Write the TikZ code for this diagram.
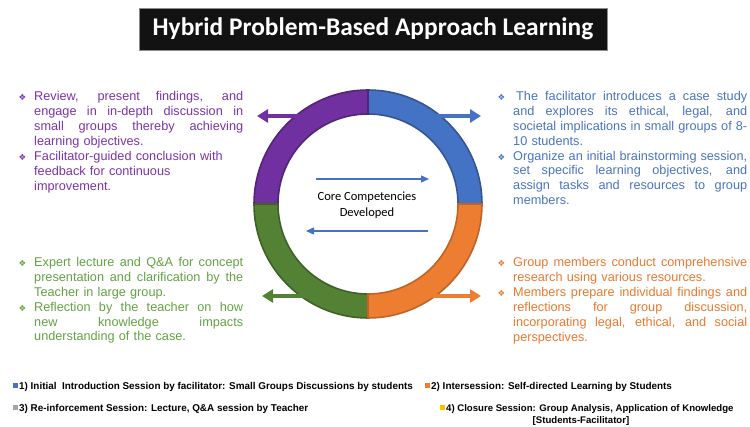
\documentclass[tikz,border=0pt]{standalone}
\usepackage{fontspec}
\setmainfont{Liberation Sans}
\newfontfamily\calib{Carlito}
\newfontfamily\djv{DejaVu Sans}
\usetikzlibrary{arrows.meta}
\definecolor{cpur}{HTML}{7030A0}
\definecolor{cblu}{HTML}{4472C4}
\definecolor{cgrn}{HTML}{548235}
\definecolor{cora}{HTML}{ED7D31}
\definecolor{tpur}{HTML}{7A35A8}
\definecolor{tblu}{HTML}{4A74C0}
\definecolor{tgrn}{HTML}{64A243}
\definecolor{tora}{HTML}{E97A30}
\definecolor{cgry}{HTML}{A5A5A5}
\definecolor{cgld}{HTML}{FFC000}
\newcommand\bul{{\djv\fontsize{8.5}{8.5}\selectfont ❖}}
\newcommand\jl[1]{\makebox[\hsize][s]{\spaceskip=0.278em plus 3em minus 0.24em #1}\par}
\newcommand\rl[1]{#1\par}
\newcommand\bjl[1]{\leavevmode\llap{\bul\hspace{8pt}}\makebox[\hsize][s]{\spaceskip=0.278em plus 3em minus 0.24em #1}\par}
\newcommand\brl[1]{\leavevmode\llap{\bul\hspace{8pt}}#1\par}
\tikzset{
  blocktxt/.style={inner sep=0pt, anchor=base west, font=\fontsize{12.7}{15}\selectfont\setlength\parindent{0pt}},
  leg/.style={inner sep=0pt, anchor=base west, font=\fontsize{9.9}{11}\selectfont\bfseries},
  legsmall/.style={inner sep=0pt, anchor=base west, font=\fontsize{9.6}{11}\selectfont\bfseries},
  sq/.style={inner sep=0pt, minimum size=5pt},
  outarrow/.style={-{Triangle[length=11pt,width=13pt]}, line width=4pt},
  inarrow/.style={-{Triangle[length=8pt,width=7pt]}, line width=1.3pt, cblu},
  seg/.style={line width=1.6pt}
}
\begin{document}
\begin{tikzpicture}[x=1pt,y=-1pt]
\useasboundingbox (0,0) rectangle (750,427);
\fill[white] (0,0) rectangle (750,427);
% title
\node[fill=black!93, draw=black!45, line width=0.6pt, minimum width=468pt, minimum height=42pt, inner sep=0pt,
      text=white, font=\calib\bfseries\fontsize{25.4}{28}\selectfont] (title) at (373,29) {Hybrid Problem-Based Approach Learning};
% ring
\coordinate (c) at (368,204);
\def\Ro{114}\def\Ri{90}
\filldraw[fill=cblu, draw=cblu!75!black, seg] ([shift={(0:\Ro)}]c) arc[start angle=0, end angle=-90, radius=\Ro] -- ([shift={(-90:\Ri)}]c) arc[start angle=-90, end angle=0, radius=\Ri] -- cycle;
\filldraw[fill=cpur, draw=cpur!75!black, seg] ([shift={(-90:\Ro)}]c) arc[start angle=-90, end angle=-180, radius=\Ro] -- ([shift={(-180:\Ri)}]c) arc[start angle=-180, end angle=-90, radius=\Ri] -- cycle;
\filldraw[fill=cgrn, draw=cgrn!75!black, seg] ([shift={(180:\Ro)}]c) arc[start angle=180, end angle=90, radius=\Ro] -- ([shift={(90:\Ri)}]c) arc[start angle=90, end angle=180, radius=\Ri] -- cycle;
\filldraw[fill=cora, draw=cora!80!black, seg] ([shift={(90:\Ro)}]c) arc[start angle=90, end angle=0, radius=\Ro] -- ([shift={(0:\Ri)}]c) arc[start angle=0, end angle=90, radius=\Ri] -- cycle;
% outward arrows
\coordinate (pa1) at (318,116); \coordinate (pa2) at (257,116);
\coordinate (ba1) at (416,116); \coordinate (ba2) at (481,116);
\coordinate (ga1) at (316,296); \coordinate (ga2) at (262,296);
\coordinate (oa1) at (422,296); \coordinate (oa2) at (481,296);
\draw[outarrow, cpur] (pa1) -- (pa2);
\draw[outarrow, cblu] (ba1) -- (ba2);
\draw[outarrow, cgrn] (ga1) -- (ga2);
\draw[outarrow, cora] (oa1) -- (oa2);
% inner arrows
\coordinate (ia1) at (316,179); \coordinate (ia2) at (429,179);
\coordinate (ib1) at (428,231); \coordinate (ib2) at (306,231);
\draw[inarrow] (ia1) -- (ia2);
\draw[inarrow] (ib1) -- (ib2);
\node[align=center, inner sep=0pt, font=\calib\fontsize{12.5}{15.5}\selectfont] (core) at (367,205) {Core Competencies\\Developed};
% text blocks
\node[blocktxt, text width=209pt, text=tpur] (lt) at (34,101) {%
\bjl{Review, present findings, and}
\jl{engage in in-depth discussion in}
\jl{small groups thereby achieving}
\rl{learning objectives.}
\brl{Facilitator-guided conclusion with}
\rl{feedback for continuous}
\rl{improvement.}};
\node[blocktxt, text width=234pt, text=tblu, font=\fontsize{12.7}{14.8}\selectfont\setlength\parindent{0pt}] (rt) at (513,101) {%
\bjl{\hspace{3pt}The facilitator introduces a case study}
\jl{and explores its ethical, legal, and}
\jl{societal implications in small groups of 8-}
\rl{10 students.}
\bjl{Organize an initial brainstorming session,}
\jl{set specific learning objectives, and}
\jl{assign tasks and resources to group}
\rl{members.}};
\node[blocktxt, text width=209pt, text=tgrn, font=\fontsize{12.7}{14.8}\selectfont\setlength\parindent{0pt}] (lb) at (34,267) {%
\bjl{Expert lecture and Q\&A for concept}
\jl{presentation and clarification by the}
\rl{Teacher in large group.}
\bjl{Reflection by the teacher on how}
\jl{new knowledge impacts}
\rl{understanding of the case.}};
\node[blocktxt, text width=234pt, text=tora] (rb) at (513,267) {%
\bjl{Group members conduct comprehensive}
\rl{research using various resources.}
\bjl{Members prepare individual findings and}
\jl{reflections for group discussion,}
\jl{incorporating legal, ethical, and social}
\rl{perspectives.}};
% legend
\node[sq, fill=cblu] (s1) at (15,386) {};
\node[leg] (l1) at (19,389.5) {1) Initial\ \ Introduction Session by facilitator: Small Groups Discussions by students};
\node[sq, fill=cora] (s2) at (427,386) {};
\node[leg] (l2) at (431,389.5) {2) Intersession: Self-directed Learning by Students};
\node[sq, fill=cgry] (s3) at (15,408) {};
\node[leg] (l3) at (19,411.5) {3) Re-inforcement Session: Lecture, Q\&A session by Teacher};
\node[sq, fill=cgld] (s4) at (442,408) {};
\node[legsmall] (l4) at (446,411.5) {4) Closure Session: Group Analysis, Application of Knowledge};
\node[legsmall, anchor=base] (l4b) at (581,423.5) {[Students-Facilitator]};
\end{tikzpicture}
\end{document}
